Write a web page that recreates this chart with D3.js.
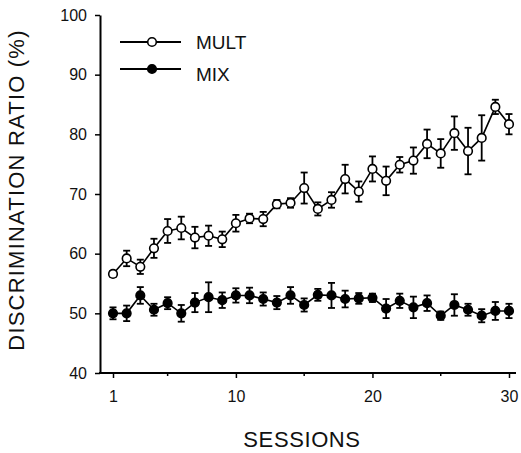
<!DOCTYPE html>
<html>
<head>
<meta charset="utf-8">
<script src="https://cdn.jsdelivr.net/npm/d3@7"></script>
<style>
  body { margin: 0; background: #fff; }
  svg { display: block; font-family: "Liberation Sans", Arial, sans-serif; }
</style>
</head>
<body>
<div id="chart"></div>
<script>
const sessions = d3.range(1, 31);
const multMean = [56.6, 59.2, 57.8, 60.9, 63.8, 64.3, 62.7, 63.0, 62.4, 65.1,
  65.9, 65.8, 68.3, 68.5, 71.0, 67.5, 69.0, 72.5, 70.4, 74.2,
  72.2, 74.9, 75.6, 78.4, 76.8, 80.2, 77.2, 79.4, 84.6, 81.7];
const multErr = [0.5, 1.3, 1.2, 1.6, 2.0, 1.9, 1.8, 1.7, 1.3, 1.4,
  0.8, 1.2, 0.7, 0.8, 2.6, 1.1, 1.3, 2.4, 1.7, 2.1,
  2.4, 1.3, 2.2, 2.4, 2.4, 2.8, 3.9, 3.8, 1.2, 1.7];
const mixMean = [50.0, 50.0, 53.0, 50.6, 51.7, 50.0, 51.8, 52.7, 52.2, 53.0,
  53.0, 52.4, 51.8, 53.0, 51.4, 53.1, 53.0, 52.4, 52.5, 52.6,
  50.8, 52.1, 51.0, 51.7, 49.6, 51.4, 50.6, 49.6, 50.4, 50.4];
const mixErr = [1.0, 1.3, 1.4, 1.0, 1.0, 1.4, 1.6, 2.5, 1.3, 1.2,
  1.3, 1.1, 1.1, 1.4, 1.1, 1.0, 2.1, 1.4, 0.9, 0.7,
  1.6, 1.2, 1.8, 1.3, 0.7, 1.8, 1.0, 1.1, 1.5, 1.2];
const xTicks = [1, 10, 20, 30];
const xMinorTicks = [5, 15, 25];
const yTicks = [40, 50, 60, 70, 80, 90, 100];

const width = 521;
const height = 453;

const x = d3.scaleLinear().domain([1, 30]).range([113, 509]);
const y = d3.scaleLinear().domain([40, 100]).range([373, 15]);

const svg = d3.select('#chart').append('svg')
  .attr('width', width)
  .attr('height', height);

// axes
const yAxis = svg.append('g')
  .attr('transform', 'translate(100,0)')
  .call(d3.axisLeft(y).tickValues(yTicks).tickSize(5).tickSizeOuter(0).tickPadding(8));
yAxis.select('.domain').attr('stroke-width', 2);
yAxis.selectAll('.tick line').attr('stroke-width', 1.5);
yAxis.selectAll('text').attr('font-size', 16).attr('fill', '#111')
  .attr('font-family', '"Liberation Sans", Arial, sans-serif');

const xAxis = svg.append('g')
  .attr('transform', 'translate(0,373)')
  .call(d3.axisBottom(x).tickValues(xTicks).tickSize(5).tickSizeOuter(0).tickPadding(13));
xAxis.select('.domain').remove();
xAxis.selectAll('.tick line').attr('stroke-width', 1.5);
xAxis.selectAll('text').attr('font-size', 16).attr('fill', '#111')
  .attr('font-family', '"Liberation Sans", Arial, sans-serif');

svg.append('g')
  .selectAll('line')
  .data(xMinorTicks)
  .enter().append('line')
  .attr('x1', d => x(d)).attr('x2', d => x(d))
  .attr('y1', 373).attr('y2', 376)
  .attr('stroke', '#000').attr('stroke-width', 1.5);

svg.append('line')
  .attr('x1', 99).attr('x2', 516)
  .attr('y1', y(40)).attr('y2', y(40))
  .attr('stroke', '#000').attr('stroke-width', 2);

// axis titles
svg.append('text')
  .attr('transform', 'translate(24,190) rotate(-90)')
  .attr('text-anchor', 'middle')
  .attr('font-size', 22)
  .attr('letter-spacing', 1.2)
  .attr('fill', '#111')
  .text('DISCRIMINATION RATIO (%)');

svg.append('text')
  .attr('x', 302).attr('y', 447)
  .attr('text-anchor', 'middle')
  .attr('font-size', 22)
  .attr('letter-spacing', 0.6)
  .attr('fill', '#111')
  .text('SESSIONS');

// series
const series = [
  { name: 'MULT', mean: multMean, err: multErr, fill: '#fff' },
  { name: 'MIX', mean: mixMean, err: mixErr, fill: '#000' }
];

const line = d3.line()
  .x(d => x(d.s))
  .y(d => y(d.v));

series.forEach(sr => {
  const pts = sessions.map((s, i) => ({ s: s, v: sr.mean[i], e: sr.err[i] }));
  const g = svg.append('g');

  const bars = g.selectAll('.err')
    .data(pts)
    .enter().append('g')
    .attr('class', 'err')
    .attr('stroke', '#000')
    .attr('stroke-width', 1.8);
  bars.append('line')
    .attr('x1', d => x(d.s)).attr('x2', d => x(d.s))
    .attr('y1', d => y(d.v + d.e)).attr('y2', d => y(d.v - d.e));
  bars.append('line')
    .attr('x1', d => x(d.s) - 3.5).attr('x2', d => x(d.s) + 3.5)
    .attr('y1', d => y(d.v + d.e)).attr('y2', d => y(d.v + d.e));
  bars.append('line')
    .attr('x1', d => x(d.s) - 3.5).attr('x2', d => x(d.s) + 3.5)
    .attr('y1', d => y(d.v - d.e)).attr('y2', d => y(d.v - d.e));

  g.append('path')
    .datum(pts)
    .attr('d', line)
    .attr('fill', 'none')
    .attr('stroke', '#000')
    .attr('stroke-width', 1.6);

  g.selectAll('circle')
    .data(pts)
    .enter().append('circle')
    .attr('cx', d => x(d.s))
    .attr('cy', d => y(d.v))
    .attr('r', 4.3)
    .attr('fill', sr.fill)
    .attr('stroke', '#000')
    .attr('stroke-width', 1.6);
});

// legend
const legend = svg.append('g');
const legendRows = legend.selectAll('g')
  .data(series)
  .enter().append('g')
  .attr('transform', (d, i) => `translate(0,${42 + i * 27})`);
legendRows.append('line')
  .attr('x1', 120).attr('x2', 181)
  .attr('y1', 0).attr('y2', 0)
  .attr('stroke', '#000').attr('stroke-width', 1.8);
legendRows.append('circle')
  .attr('cx', 152).attr('cy', 0).attr('r', 4.3)
  .attr('fill', d => d.fill)
  .attr('stroke', '#000').attr('stroke-width', 1.6);
legendRows.append('text')
  .attr('x', 196).attr('y', (d, i) => i === 0 ? 6.5 : 12)
  .attr('font-size', 19)
  .attr('fill', '#111')
  .text(d => d.name);
</script>
</body>
</html>
